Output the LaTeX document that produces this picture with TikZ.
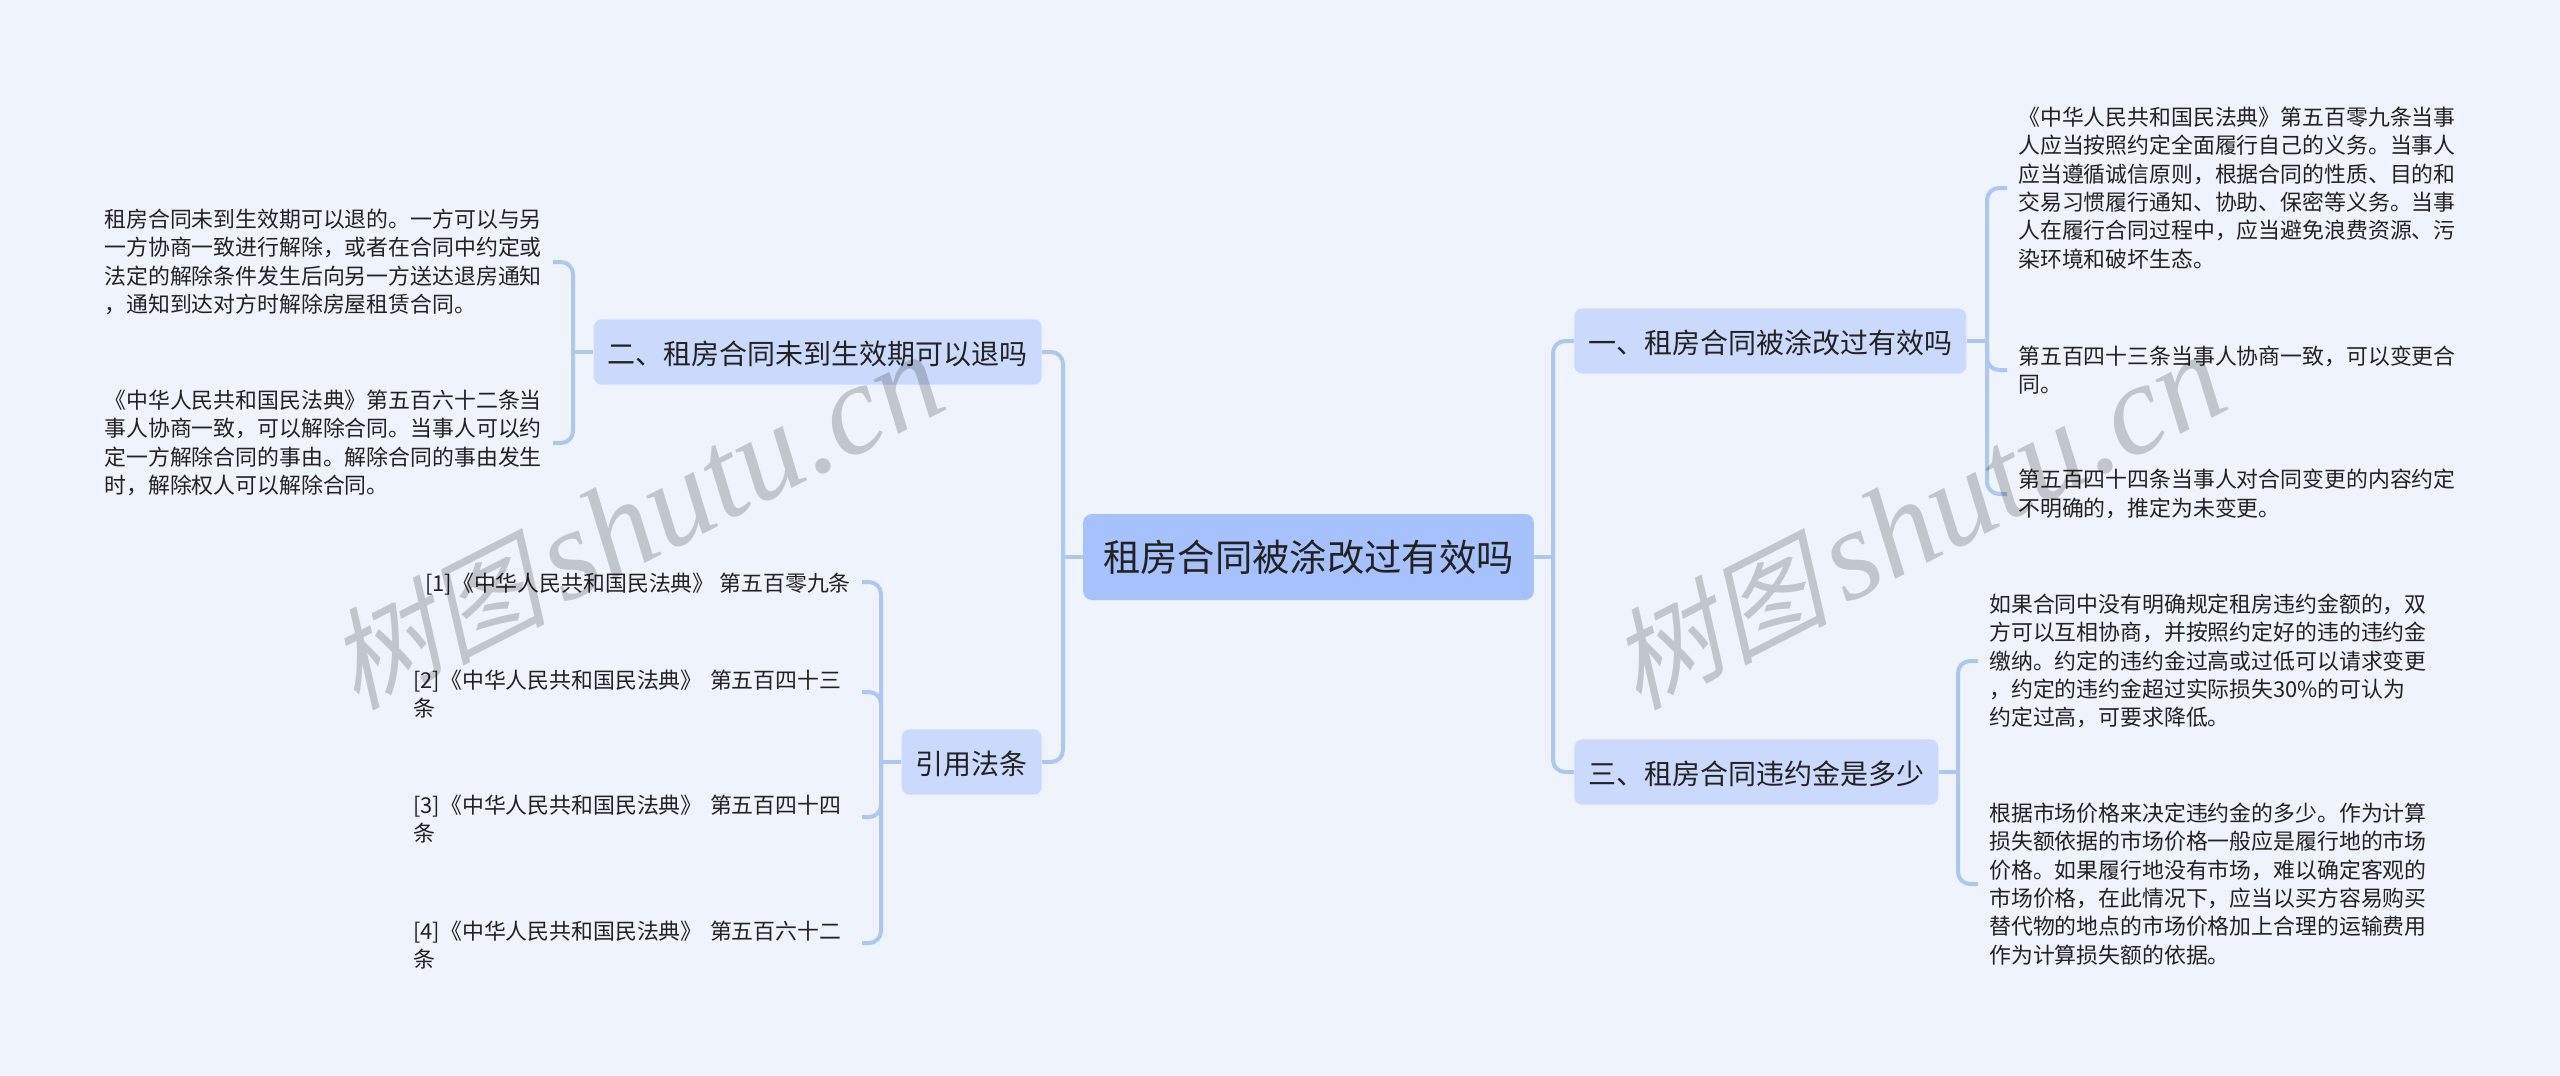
\documentclass[tikz,border=0pt]{standalone}
\usepackage{fontspec}
\usepackage{xcolor}
\usepackage{tikz}
\setmainfont{Noto Sans CJK SC}
\newfontfamily\wmcjk[FakeSlant=0.25]{Noto Sans CJK SC}
\newfontfamily\wmlatin{Liberation Serif}
\definecolor{pagebg}{HTML}{EEF3FC}
\definecolor{rootfill}{HTML}{A6C1FC}
\definecolor{branchfill}{HTML}{CBDAFC}
\definecolor{linkblue}{HTML}{AEC6F0}
\definecolor{inktext}{HTML}{222222}

\begin{document}
\begin{tikzpicture}[x=0.75pt, y=-0.75pt]
        \tikzset{root style/.style={rectangle, rounded corners=6.5pt, fill=rootfill, text=inktext, minimum height=64.5pt, inner xsep=15pt, inner ysep=0pt, font=\fontsize{28}{34}\selectfont}}
        \tikzset{branch style/.style={rectangle, rounded corners=6pt, fill=branchfill, text=inktext, minimum height=49pt, inner xsep=10.5pt, inner ysep=0pt, text height=21pt, text depth=2.6pt, font=\fontsize{21}{26}\selectfont}}
        \tikzset{leaf style/.style={align=left, text=inktext, inner xsep=8.25pt, inner ysep=0pt, font=\fontsize{16.4}{21.2}\selectfont, execute at begin node={\rule{0pt}{16.8pt}}}}
        \tikzset{law style/.style={leaf style, text width=328pt}}
        \tikzset{line style/.style={line width=3pt, color=linkblue, rounded corners=9pt}}
        \tikzset{mark style/.style={rotate=27, text=black, text opacity=0.19, inner sep=0pt}}

        \useasboundingbox (0,0) rectangle (2560,1075);
        \fill[pagebg] (0,0) rectangle (2560,1075);

        % trunks
        \coordinate (roottrunkright) at (1553,557);
        \coordinate (roottrunkleft) at (1063,557);
        \coordinate (onetrunk) at (1987,341);
        \coordinate (threetrunk) at (1958,772);
        \coordinate (twotrunk) at (573,352);
        \coordinate (lawtrunk) at (881,762);

        % main boxes
        \node[root style] (root) at (1308.5,557) {租房合同被涂改过有效吗};
        \node[branch style, anchor=west] (brone) at (1574,341) {一、租房合同被涂改过有效吗};
        \node[branch style, anchor=west] (brthree) at (1574,772) {三、租房合同违约金是多少};
        \node[branch style, anchor=east] (brtwo) at (1042,352) {二、租房合同未到生效期可以退吗};
        \node[branch style, anchor=east] (brlaw) at (1042,762) {引用法条};

        % right side text
        \node[leaf style, anchor=west] (oneleafa) at (2007,188) {《中华人民共和国民法典》第五百零九条当事\\人应当按照约定全面履行自己的义务。当事人\\应当遵循诚信原则，根据合同的性质、目的和\\交易习惯履行通知、协助、保密等义务。当事\\人在履行合同过程中，应当避免浪费资源、污\\染环境和破坏生态。};
        \node[leaf style, anchor=west] (oneleafb) at (2007,370) {第五百四十三条当事人协商一致，可以变更合\\同。};
        \node[leaf style, anchor=west] (oneleafc) at (2007,494) {第五百四十四条当事人对合同变更的内容约定\\不明确的，推定为未变更。};
        \node[leaf style, anchor=west] (threeleafa) at (1978,661) {如果合同中没有明确规定租房违约金额的，双\\方可以互相协商，并按照约定好的违的违约金\\缴纳。约定的违约金过高或过低可以请求变更\\，约定的违约金超过实际损失30\%的可认为\\约定过高，可要求降低。};
        \node[leaf style, anchor=west] (threeleafb) at (1978,884) {根据市场价格来决定违约金的多少。作为计算\\损失额依据的市场价格一般应是履行地的市场\\价格。如果履行地没有市场，难以确定客观的\\市场价格，在此情况下，应当以买方容易购买\\替代物的地点的市场价格加上合理的运输费用\\作为计算损失额的依据。};

        % left side text
        \node[leaf style, anchor=east] (twoleafa) at (553,262) {租房合同未到生效期可以退的。一方可以与另\\一方协商一致进行解除，或者在合同中约定或\\法定的解除条件发生后向另一方送达退房通知\\，通知到达对方时解除房屋租赁合同。};
        \node[leaf style, anchor=east] (twoleafb) at (553,443) {《中华人民共和国民法典》第五百六十二条当\\事人协商一致，可以解除合同。当事人可以约\\定一方解除合同的事由。解除合同的事由发生\\时，解除权人可以解除合同。};
        \node[leaf style, anchor=east] (lawleafa) at (862,582) {[1]《中华人民共和国民法典》 第五百零九条};
        \node[law style, anchor=east] (lawleafb) at (862,692) {[2]《中华人民共和国民法典》 第五百四十三\\条};
        \node[law style, anchor=east] (lawleafc) at (862,817) {[3]《中华人民共和国民法典》 第五百四十四\\条};
        \node[law style, anchor=east] (lawleafd) at (862,943) {[4]《中华人民共和国民法典》 第五百六十二\\条};

        % connectors
        \draw[line style] (root.east) -- (roottrunkright);
        \draw[line style] (roottrunkright) |- (brone.west);
        \draw[line style] (roottrunkright) |- (brthree.west);
        \draw[line style] (root.west) -- (roottrunkleft);
        \draw[line style] (roottrunkleft) |- (brtwo.east);
        \draw[line style] (roottrunkleft) |- (brlaw.east);

        \draw[line style] (brone.east) -- (onetrunk);
        \draw[line style] (onetrunk) |- (oneleafa.west);
        \draw[line style] (onetrunk) |- (oneleafb.west);
        \draw[line style] (onetrunk) |- (oneleafc.west);
        \draw[line style] (brthree.east) -- (threetrunk);
        \draw[line style] (threetrunk) |- (threeleafa.west);
        \draw[line style] (threetrunk) |- (threeleafb.west);
        \draw[line style] (brtwo.west) -- (twotrunk);
        \draw[line style] (twotrunk) |- (twoleafa.east);
        \draw[line style] (twotrunk) |- (twoleafb.east);
        \draw[line style] (brlaw.west) -- (lawtrunk);
        \draw[line style] (lawtrunk) |- (lawleafa.east);
        \draw[line style] (lawtrunk) |- (lawleafb.east);
        \draw[line style] (lawtrunk) |- (lawleafc.east);
        \draw[line style] (lawtrunk) |- (lawleafd.east);

        % watermark
        \node[mark style] (markleft) at (635,522) {{\fontsize{82}{90}\wmcjk 树图}\hspace{12pt}{\fontsize{97}{100}\wmlatin\itshape shutu.cn}};
        \node[mark style] (markright) at (1917,522) {{\fontsize{82}{90}\wmcjk 树图}\hspace{12pt}{\fontsize{97}{100}\wmlatin\itshape shutu.cn}};
    \end{tikzpicture}
\end{document}
